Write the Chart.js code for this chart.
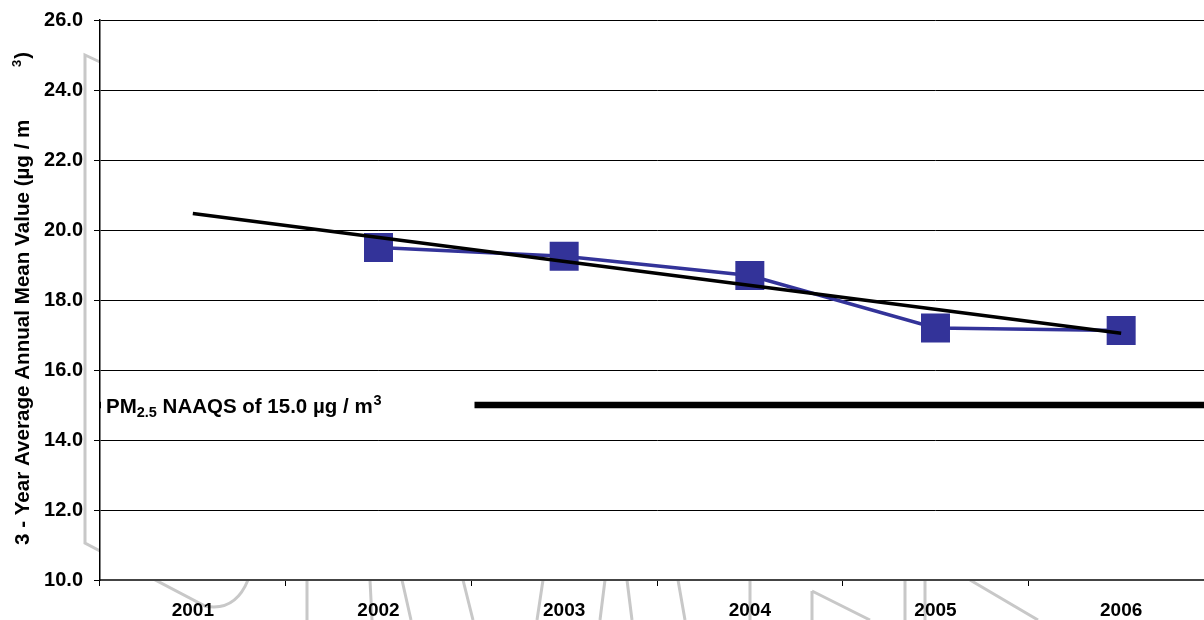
<!DOCTYPE html>
<html>
<head>
<meta charset="utf-8">
<script src="https://cdn.jsdelivr.net/npm/chart.js@4.4.1/dist/chart.umd.min.js"></script>
<style>
  html, body { margin: 0; padding: 0; background: #fff; overflow: hidden; }
  #wrap { position: absolute; left: 0; top: 0; width: 1214px; height: 620px; }
</style>
</head>
<body>
<div id="wrap"><canvas id="c"></canvas></div>
<script>
// ---- data ----
const years = ['2001', '2002', '2003', '2004', '2005', '2006'];
const measured = [null, 19.5, 19.25, 18.7, 17.2, 17.13];
const trend = [20.47, null, null, null, null, 17.05];
const naaqsValue = 15.0;
const yMin = 10, yMax = 26, yStep = 2;
const yTitleMain = '3 - Year Average Annual Mean Value (\u00b5g / m';
const naaqsParts = ['PM', '2.5', ' NAAQS of 15.0 \u00b5g / m', '3'];

const FONT = '"Liberation Sans", Arial, sans-serif';
const BLUE = '#333399';

const bgPlugin = {
  id: 'bg',
  beforeDraw(chart) {
    const ctx = chart.ctx, a = chart.chartArea;
    ctx.save();
    ctx.fillStyle = '#fff';
    ctx.fillRect(0, 0, chart.width, chart.height);
    ctx.strokeStyle = '#c8c8c8';
    ctx.lineWidth = 3;
    ctx.beginPath();
    ctx.moveTo(100, 62); ctx.lineTo(85, 55); ctx.lineTo(85, 543);
    ctx.lineTo(205, 606);
    ctx.quadraticCurveTo(235, 612, 248, 580);
    const segs = [
      [307, 580, 307, 620], [370, 580, 372, 620], [402, 580, 411, 620],
      [463, 580, 473, 620], [543, 580, 537, 620], [605, 580, 600, 620],
      [627, 580, 632, 620], [678, 580, 685, 620], [750, 580, 750, 620],
      [812, 591, 812, 620], [812, 591, 870, 620], [905, 580, 905, 620],
      [925, 580, 925, 620], [970, 580, 1038, 620]
    ];
    segs.forEach(s => { ctx.moveTo(s[0], s[1]); ctx.lineTo(s[2], s[3]); });
    ctx.stroke();
    ctx.fillStyle = '#fff';
    ctx.fillRect(a.left, a.top, a.right - a.left, a.bottom - a.top);
    ctx.restore();
  }
};

const naaqsPlugin = {
  id: 'naaqs',
  beforeDatasetsDraw(chart) {
    const ctx = chart.ctx, a = chart.chartArea, y = chart.scales.y, x = chart.scales.x;
    const py = y.getPixelForValue(naaqsValue);
    ctx.save();
    ctx.strokeStyle = '#000';
    ctx.lineWidth = 6.5;
    ctx.beginPath();
    ctx.moveTo(a.left, py);
    ctx.lineTo(a.right, py);
    ctx.stroke();
    const boxTop = y.getPixelForValue(16) + 1;
    const boxBot = y.getPixelForValue(14) - 1;
    const boxRight = x.getPixelForValue(1) + 96;
    ctx.fillStyle = '#fff';
    ctx.fillRect(a.left + 1, boxTop, boxRight - a.left - 1, boxBot - boxTop);
    let tx = a.left + 6;
    const base = py + 8;
    ctx.fillStyle = '#000';
    ctx.textBaseline = 'alphabetic';
    ctx.textAlign = 'left';
    ctx.font = 'bold 20.5px ' + FONT;
    ctx.fillText(naaqsParts[0], tx, base); tx += ctx.measureText(naaqsParts[0]).width;
    ctx.font = 'bold 14.5px ' + FONT;
    ctx.fillText(naaqsParts[1], tx, base + 4); tx += ctx.measureText(naaqsParts[1]).width;
    ctx.font = 'bold 20.5px ' + FONT;
    ctx.fillText(naaqsParts[2], tx, base); tx += ctx.measureText(naaqsParts[2]).width + 1;
    ctx.font = 'bold 14.5px ' + FONT;
    ctx.fillText(naaqsParts[3], tx, base - 8);
    ctx.restore();
  }
};

const titlePlugin = {
  id: 'ytitle',
  afterDraw(chart) {
    const ctx = chart.ctx;
    ctx.save();
    ctx.translate(29, 545);
    ctx.rotate(-Math.PI / 2);
    ctx.fillStyle = '#000';
    ctx.textAlign = 'left';
    ctx.textBaseline = 'alphabetic';
    ctx.font = 'bold 20.6px ' + FONT;
    ctx.fillText(yTitleMain, 0, 0);
    ctx.font = 'bold 13px ' + FONT;
    ctx.fillText('3', 478, -8);
    const w3 = ctx.measureText('3').width;
    ctx.font = 'bold 20px ' + FONT;
    ctx.fillText(')', 478 + w3 + 1, 0);
    ctx.restore();
  }
};

new Chart(document.getElementById('c'), {
  type: 'line',
  data: {
    labels: years,
    datasets: [
      {
        label: 'Trend',
        data: trend,
        borderColor: '#000',
        borderWidth: 3.5,
        pointRadius: 0,
        spanGaps: true,
        order: 0
      },
      {
        label: '3-yr mean',
        data: measured,
        borderColor: BLUE,
        backgroundColor: BLUE,
        borderWidth: 3.5,
        pointStyle: 'rect',
        pointRadius: 20.5,
        pointBorderWidth: 0,
        pointBackgroundColor: BLUE,
        spanGaps: true,
        order: 1
      }
    ]
  },
  options: {
    responsive: true,
    maintainAspectRatio: false,
    animation: false,
    devicePixelRatio: 1,
    layout: { autoPadding: false, padding: { top: 20, left: 0, right: 0, bottom: 0 } },
    plugins: { legend: { display: false }, tooltip: { enabled: false } },
    scales: {
      x: {
        offset: true,
        afterFit(s) { s.height = 40; s.paddingLeft = 0; s.paddingRight = 0; },
        grid: { drawOnChartArea: false, drawTicks: true, tickLength: 6, color: '#000', offset: true },
        border: { display: true, color: '#444', width: 2 },
        ticks: { color: '#000', padding: 13, font: { family: FONT, size: 19, weight: 'bold' }, maxRotation: 0 }
      },
      y: {
        min: yMin, max: yMax,
        afterFit(s) { s.width = 100; s.paddingTop = 0; s.paddingBottom = 0; },
        grid: { color: '#000', lineWidth: 1, tickLength: 6 },
        border: { display: true, color: '#000', width: 1.5 },
        ticks: {
          stepSize: yStep,
          color: '#000',
          padding: 11,
          font: { family: FONT, size: 20, weight: 'bold' },
          callback: v => Number(v).toFixed(1)
        }
      }
    }
  },
  plugins: [bgPlugin, naaqsPlugin, titlePlugin]
});
</script>
</body>
</html>
